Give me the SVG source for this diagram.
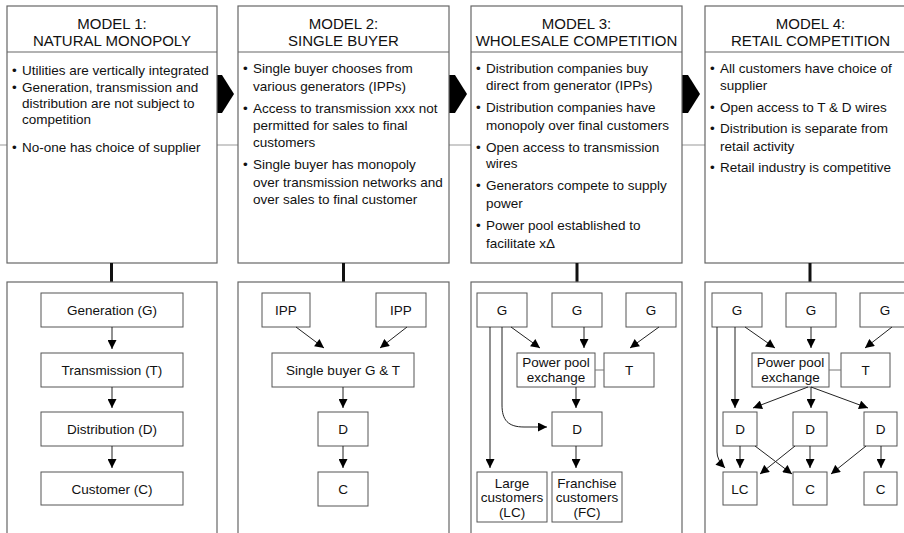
<svg xmlns="http://www.w3.org/2000/svg" width="904" height="533" viewBox="0 0 904 533">
<style>
.panel{fill:#fff;stroke:#666;stroke-width:1.2}
.box{fill:#fff;stroke:#555;stroke-width:1}
.hdr{font-family:"Liberation Sans",Arial,sans-serif;font-size:15px;fill:#111;text-anchor:middle}
.bt{font-family:"Liberation Sans",Arial,sans-serif;font-size:13.5px;fill:#111}
.lbl{font-family:"Liberation Sans",Arial,sans-serif;font-size:13.5px;fill:#111;text-anchor:middle}
.div{stroke:#666;stroke-width:1.2}
.con{stroke:#222;stroke-width:1;fill:none;marker-end:url(#ah)}
.thin{stroke:#777;stroke-width:1;fill:none}
.stem{stroke:#111;stroke-width:3}
.big{fill:#000}
</style>
<defs>
<marker id="ah" viewBox="0 0 10 10" refX="10" refY="5" markerWidth="10" markerHeight="9" markerUnits="userSpaceOnUse" orient="auto">
<path d="M0,0 L10,5 L0,10 Z" fill="#000"/>
</marker>
</defs>
<rect width="904" height="533" fill="#fff"/>
<line x1="0" y1="145" x2="904" y2="145" stroke="#bbb" stroke-width="1.5"/>

<g id="transitions">
<polygon class="big" points="216,75 222,75 234,94 222,113 216,113"/>
<polygon class="big" points="449,75 455,75 467,94 455,113 449,113"/>
<polygon class="big" points="682,75 688,75 700,94 688,113 682,113"/>
</g>

<g id="model1">
<rect class="panel" x="7" y="6" width="210" height="257"/>
<line class="div" x1="7" y1="52" x2="217" y2="52"/>
<text class="hdr" x="112" y="29">MODEL 1:</text>
<text class="hdr" x="112" y="46">NATURAL MONOPOLY</text>
<text class="bt" x="12" y="75">•</text><text class="bt" x="22" y="75">Utilities are vertically integrated</text>
<text class="bt" x="12" y="92">•</text><text class="bt" x="22" y="92">Generation, transmission and</text>
<text class="bt" x="22" y="108">distribution are not subject to</text>
<text class="bt" x="22" y="124">competition</text>
<text class="bt" x="12" y="152">•</text><text class="bt" x="22" y="152">No-one has choice of supplier</text>
</g>

<g id="model2">
<rect class="panel" x="238" y="6" width="211" height="257"/>
<line class="div" x1="238" y1="52" x2="449" y2="52"/>
<text class="hdr" x="343.5" y="29">MODEL 2:</text>
<text class="hdr" x="343.5" y="46">SINGLE BUYER</text>
<text class="bt" x="243" y="73">•</text><text class="bt" x="253" y="73">Single buyer chooses from</text>
<text class="bt" x="253" y="90.5">various generators (IPPs)</text>
<text class="bt" x="243" y="112.5">•</text><text class="bt" x="253" y="112.5">Access to transmission xxx not</text>
<text class="bt" x="253" y="130">permitted for sales to final</text>
<text class="bt" x="253" y="147">customers</text>
<text class="bt" x="243" y="169">•</text><text class="bt" x="253" y="169">Single buyer has monopoly</text>
<text class="bt" x="253" y="186.5">over transmission networks and</text>
<text class="bt" x="253" y="204">over sales to final customer</text>
</g>

<g id="model3">
<rect class="panel" x="471" y="6" width="211" height="257"/>
<line class="div" x1="471" y1="52" x2="682" y2="52"/>
<text class="hdr" x="576.5" y="29">MODEL 3:</text>
<text class="hdr" x="576.5" y="46">WHOLESALE COMPETITION</text>
<text class="bt" x="476" y="73">•</text><text class="bt" x="486" y="73">Distribution companies buy</text>
<text class="bt" x="486" y="90">direct from generator (IPPs)</text>
<text class="bt" x="476" y="112">•</text><text class="bt" x="486" y="112">Distribution companies have</text>
<text class="bt" x="486" y="130">monopoly over final customers</text>
<text class="bt" x="476" y="152">•</text><text class="bt" x="486" y="152">Open access to transmission</text>
<text class="bt" x="486" y="168">wires</text>
<text class="bt" x="476" y="190">•</text><text class="bt" x="486" y="190">Generators compete to supply</text>
<text class="bt" x="486" y="208">power</text>
<text class="bt" x="476" y="230">•</text><text class="bt" x="486" y="230">Power pool established to</text>
<text class="bt" x="486" y="248">facilitate xΔ</text>
</g>

<g id="model4">
<rect class="panel" x="705" y="6" width="211" height="257"/>
<line class="div" x1="705" y1="52" x2="916" y2="52"/>
<text class="hdr" x="810.5" y="29">MODEL 4:</text>
<text class="hdr" x="810.5" y="46">RETAIL COMPETITION</text>
<text class="bt" x="710" y="73">•</text><text class="bt" x="720" y="73">All customers have choice of</text>
<text class="bt" x="720" y="90">supplier</text>
<text class="bt" x="710" y="112">•</text><text class="bt" x="720" y="112">Open access to T &amp; D wires</text>
<text class="bt" x="710" y="133">•</text><text class="bt" x="720" y="133">Distribution is separate from</text>
<text class="bt" x="720" y="151">retail activity</text>
<text class="bt" x="710" y="172">•</text><text class="bt" x="720" y="172">Retail industry is competitive</text>
</g>

<g id="stems">
<line class="stem" x1="111.5" y1="263" x2="111.5" y2="282"/>
<line class="stem" x1="343.5" y1="263" x2="343.5" y2="282"/>
<line class="stem" x1="577" y1="263" x2="577" y2="282"/>
<line class="stem" x1="810" y1="263" x2="810" y2="282"/>
</g>

<g id="panel1-bottom"><rect class="panel" x="7" y="282" width="210" height="260"/></g>
<g id="panel2-bottom"><rect class="panel" x="238" y="282" width="211" height="260"/></g>
<g id="panel3-bottom"><rect class="panel" x="471" y="282" width="211" height="260"/></g>
<g id="panel4-bottom"><rect class="panel" x="705" y="282" width="211" height="260"/></g>

<g id="m1-gen"><rect class="box" x="41" y="293" width="142" height="34"/><text class="lbl" x="112" y="315">Generation (G)</text></g>
<g id="m1-trans"><rect class="box" x="41" y="353" width="142" height="34"/><text class="lbl" x="112" y="375">Transmission (T)</text></g>
<g id="m1-dist"><rect class="box" x="41" y="412" width="142" height="34"/><text class="lbl" x="112" y="434">Distribution (D)</text></g>
<g id="m1-cust"><rect class="box" x="41" y="472" width="142" height="33"/><text class="lbl" x="112" y="494">Customer (C)</text></g>

<g id="m2-ipp1"><rect class="box" x="262" y="293" width="48" height="34"/><text class="lbl" x="286" y="315">IPP</text></g>
<g id="m2-ipp2"><rect class="box" x="376" y="293" width="50" height="34"/><text class="lbl" x="401" y="315">IPP</text></g>
<g id="m2-sb"><rect class="box" x="272" y="353" width="142" height="34"/><text class="lbl" x="343" y="375">Single buyer G &amp; T</text></g>
<g id="m2-d"><rect class="box" x="318" y="412" width="50" height="34"/><text class="lbl" x="343" y="434">D</text></g>
<g id="m2-c"><rect class="box" x="318" y="472" width="50" height="34"/><text class="lbl" x="343" y="494">C</text></g>

<g id="m3-g1"><rect class="box" x="477" y="293" width="50" height="34"/><text class="lbl" x="502" y="315">G</text></g>
<g id="m3-g2"><rect class="box" x="552" y="293" width="50" height="34"/><text class="lbl" x="577" y="315">G</text></g>
<g id="m3-g3"><rect class="box" x="626" y="293" width="50" height="34"/><text class="lbl" x="651" y="315">G</text></g>
<g id="m3-ppe"><rect class="box" x="517" y="353" width="78" height="34"/><text class="lbl" x="556" y="367">Power pool</text><text class="lbl" x="556" y="382">exchange</text></g>
<g id="m3-t"><rect class="box" x="604" y="353" width="50" height="34"/><text class="lbl" x="629" y="375">T</text></g>
<g id="m3-d"><rect class="box" x="552" y="412" width="50" height="34"/><text class="lbl" x="577" y="434">D</text></g>
<g id="m3-lc"><rect class="box" x="477" y="472" width="70" height="50"/><text class="lbl" x="512" y="488">Large</text><text class="lbl" x="512" y="502">customers</text><text class="lbl" x="512" y="517">(LC)</text></g>
<g id="m3-fc"><rect class="box" x="552" y="472" width="70" height="50"/><text class="lbl" x="587" y="488">Franchise</text><text class="lbl" x="587" y="502">customers</text><text class="lbl" x="587" y="517">(FC)</text></g>

<g id="m4-g1"><rect class="box" x="712" y="293" width="50" height="34"/><text class="lbl" x="737" y="315">G</text></g>
<g id="m4-g2"><rect class="box" x="786" y="293" width="50" height="34"/><text class="lbl" x="811" y="315">G</text></g>
<g id="m4-g3"><rect class="box" x="860" y="293" width="50" height="34"/><text class="lbl" x="885" y="315">G</text></g>
<g id="m4-ppe"><rect class="box" x="752" y="353" width="77" height="34"/><text class="lbl" x="790.5" y="367">Power pool</text><text class="lbl" x="790.5" y="382">exchange</text></g>
<g id="m4-t"><rect class="box" x="841" y="353" width="49" height="34"/><text class="lbl" x="865.5" y="375">T</text></g>
<g id="m4-d1"><rect class="box" x="723" y="412" width="34" height="34"/><text class="lbl" x="740" y="434">D</text></g>
<g id="m4-d2"><rect class="box" x="793" y="412" width="34" height="34"/><text class="lbl" x="810" y="434">D</text></g>
<g id="m4-d3"><rect class="box" x="864" y="412" width="33" height="34"/><text class="lbl" x="880.5" y="434">D</text></g>
<g id="m4-lc"><rect class="box" x="723" y="472" width="34" height="33"/><text class="lbl" x="740" y="494">LC</text></g>
<g id="m4-c1"><rect class="box" x="793" y="472" width="34" height="33"/><text class="lbl" x="810" y="494">C</text></g>
<g id="m4-c2"><rect class="box" x="864" y="472" width="33" height="33"/><text class="lbl" x="880.5" y="494">C</text></g>

<g id="connectors">
<line class="con" x1="112" y1="327" x2="112" y2="349"/>
<line class="con" x1="112" y1="387" x2="112" y2="408"/>
<line class="con" x1="112" y1="446" x2="112" y2="468"/>

<line class="con" x1="296" y1="327" x2="324" y2="348"/>
<line class="con" x1="407" y1="327" x2="380" y2="348"/>
<line class="con" x1="343" y1="387" x2="343" y2="408"/>
<line class="con" x1="343" y1="446" x2="343" y2="468"/>

<line class="con" x1="511" y1="327" x2="540" y2="348"/>
<line class="con" x1="584" y1="327" x2="584" y2="348"/>
<line class="con" x1="659" y1="327" x2="630" y2="348"/>
<line class="thin" x1="595" y1="370" x2="604" y2="370"/>
<line class="con" x1="576" y1="387" x2="576" y2="408"/>
<line class="con" x1="490" y1="327" x2="490" y2="468"/>
<path class="con" d="M502,327 V405 C502,420 508,427 524,427 H547"/>
<line class="con" x1="576" y1="446" x2="576" y2="468"/>

<line class="con" x1="745" y1="327" x2="775" y2="348"/>
<line class="con" x1="811" y1="327" x2="811" y2="348"/>
<line class="con" x1="892" y1="327" x2="865" y2="348"/>
<line class="thin" x1="829" y1="370" x2="841" y2="370"/>
<line class="con" x1="735" y1="327" x2="735" y2="408"/>
<path class="con" d="M717,327 V452 Q717,460 725,468"/>
<line class="con" x1="808" y1="387" x2="753" y2="408"/>
<line class="con" x1="811" y1="387" x2="811" y2="408"/>
<line class="con" x1="811" y1="387" x2="868" y2="408"/>
<line class="con" x1="740" y1="446" x2="740" y2="468"/>
<line class="con" x1="755" y1="446" x2="792" y2="474"/>
<line class="con" x1="795" y1="446" x2="760" y2="474"/>
<line class="con" x1="810" y1="446" x2="810" y2="468"/>
<line class="con" x1="866" y1="446" x2="831" y2="474"/>
<line class="con" x1="881" y1="446" x2="881" y2="468"/>
</g>
</svg>
